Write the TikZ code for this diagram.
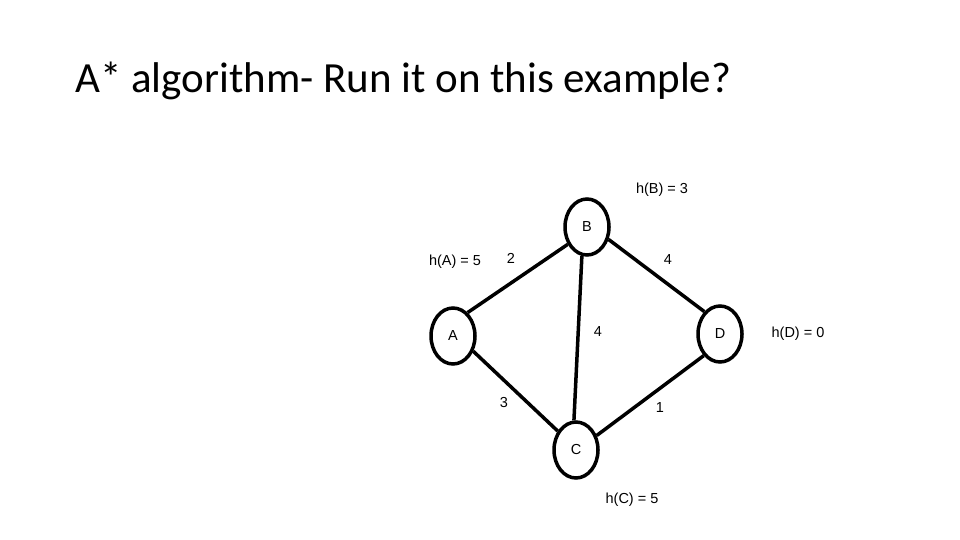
\documentclass[tikz,border=0pt]{standalone}
\usepackage{fontspec}
\setmainfont{Carlito}
\newfontfamily\lblfont{Liberation Sans}
\usetikzlibrary{shapes.geometric}
\begin{document}
\begin{tikzpicture}[x=1pt, y=-1pt,
  state/.style={draw, ellipse, line width=3.5pt, minimum width=44pt, minimum height=56pt, inner sep=0pt, font=\lblfont\fontsize{14.5}{17}\selectfont},
  hlabel/.style={font=\lblfont\fontsize{14.5}{17}\selectfont, inner sep=0pt},
  edge/.style={line width=3.5pt}]
\useasboundingbox (0,0) rectangle (960,540);
\node[anchor=base west, inner sep=0pt, font=\fontsize{43}{50}\selectfont] (title) at (75,93) {A* algorithm- Run it on this example?};
\node[state] (b) at (587,227) {B};
\node[state] (a) at (453,336) {A};
\node[state] (d) at (720,334) {D};
\node[state] (c) at (576,450) {C};
\draw[edge] (a.58) -- (b.222);
\draw[edge] (b.260) -- (c.94);
\draw[edge] (b.330) -- (d.125);
\draw[edge] (a.323) -- (c.134);
\draw[edge] (c.35) -- (d.233);
\node[hlabel] (hb) at (662,190) {h(B) = 3};
\node[hlabel] (ha) at (455,262) {h(A) = 5};
\node[hlabel] (hd) at (798,334) {h(D) = 0};
\node[hlabel] (hc) at (632,500) {h(C) = 5};
\node[hlabel] (wab) at (511,258) {2};
\node[hlabel] (wbd) at (668,260) {4};
\node[hlabel] (wbc) at (598,332) {4};
\node[hlabel] (wac) at (504,403) {3};
\node[hlabel] (wcd) at (660,408) {1};
\end{tikzpicture}
\end{document}
